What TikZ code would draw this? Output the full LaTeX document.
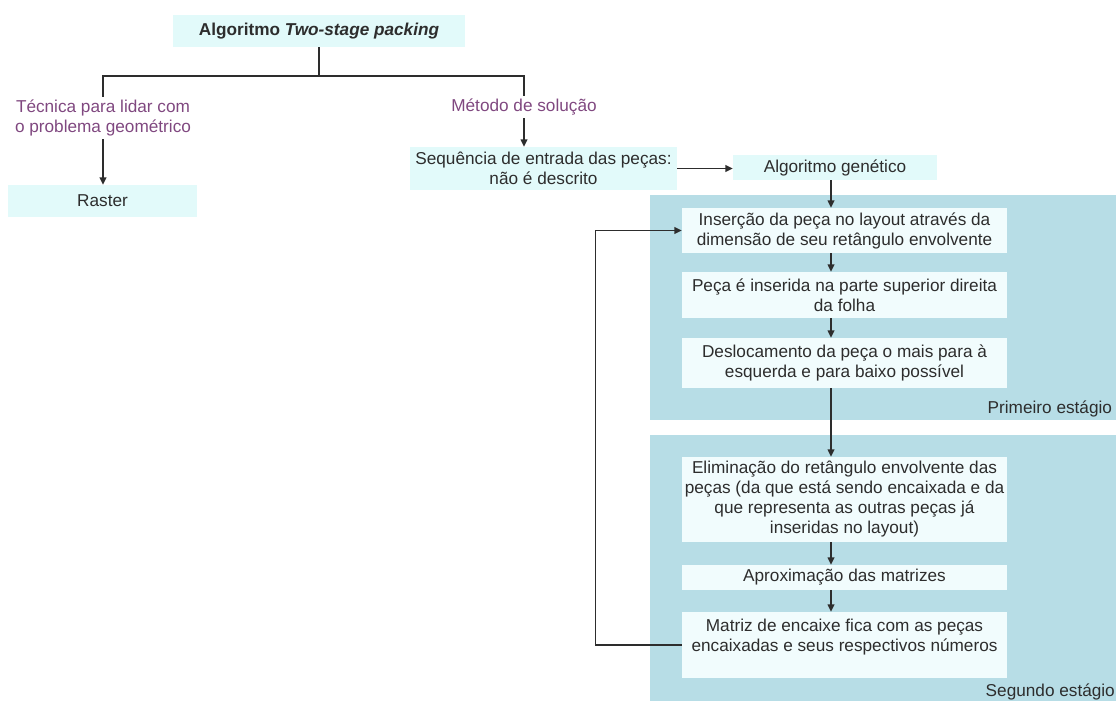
\documentclass[tikz,border=0pt]{standalone}
\usepackage{fontspec}
\setmainfont{Liberation Sans}
\usetikzlibrary{arrows.meta}

\definecolor{boxcyan}{RGB}{226,250,250}
\definecolor{panelblue}{RGB}{183,221,230}
\definecolor{innerbox}{RGB}{241,252,253}
\definecolor{txt}{RGB}{45,45,45}
\definecolor{lilac}{RGB}{128,72,128}

\begin{document}
\begin{tikzpicture}[x=0.75pt,y=-0.75pt,
  font=\fontsize{12.9}{15}\selectfont, text=txt,
  topbox/.style={fill=boxcyan, inner sep=0pt, align=center},
  stepbox/.style={fill=innerbox, inner sep=0pt, align=center, minimum width=243.75pt},
  branch/.style={text=lilac, align=center, inner sep=2pt},
  link/.style={draw=txt, line width=1.1pt},
  arr/.style={link, -{Triangle[length=5.5pt,width=5pt]}},
  stagelabel/.style={anchor=base west, text=txt}]

\useasboundingbox (0,0) rectangle (1116,700);
\clip (0,0) rectangle (1116,700);

% stage panels
\fill[panelblue] (650,195) rectangle (1125,420);
\fill[panelblue] (650,435) rectangle (1125,710);
\node[stagelabel] (st1) at (983,413) {Primeiro estágio};
\node[stagelabel] (st2) at (981,696) {Segundo estágio};

% top of the tree
\node[topbox, minimum width=219pt, minimum height=24pt] (title) at (319,31)
  {\textbf{Algoritmo \textit{Two-stage packing}}};
\node[branch] (tec) at (103,118) {Técnica para lidar com\\o problema geométrico};
\node[branch] (met) at (524,107) {Método de solução};
\node[topbox, minimum width=141.75pt, minimum height=24pt] (raster) at (102.5,201) {Raster};
\node[topbox, minimum width=200pt, minimum height=32.25pt] (seq) at (543.5,168.5)
  {Sequência de entrada das peças:\\não é descrito};
\node[topbox, minimum width=153pt, minimum height=18.75pt] (gen) at (835,167.5)
  {Algoritmo genético};

% steps of the two stages
\node[stepbox, minimum height=33.75pt] (b1) at (844.5,230.5)
  {Inserção da peça no layout através da\\dimensão de seu retângulo envolvente};
\node[stepbox, minimum height=34.5pt] (b2) at (844.5,295)
  {Peça é inserida na parte superior direita\\da folha};
\node[stepbox, minimum height=37.5pt] (b3) at (844.5,363)
  {Deslocamento da peça o mais para à\\esquerda e para baixo possível};
\node[stepbox, minimum height=63.75pt] (b4) at (844.5,499.5)
  {Eliminação do retângulo envolvente das\\peças (da que está sendo encaixada e da\\que representa as outras peças já\\inseridas no layout)};
\node[stepbox, minimum height=18.75pt] (b5) at (844.5,577.5)
  {Aproximação das matrizes};
\node[stepbox, minimum height=49.5pt] (b6) at (844.5,645)
  {Matriz de encaixe fica com as peças\\encaixadas e seus respectivos números\\\mbox{}};

% connectors
\coordinate (split) at (319,76);
\coordinate (ax) at (831,0);
\draw[link] (title.south) -- (split);
\draw[link] (tec.north) |- (split) -| (met.north);
\draw[arr] (tec.south) -- (tec.south |- raster.north);
\draw[arr] (met.south) -- (met.south |- seq.north);
\draw[arr] (seq.east) -- (seq.east -| gen.west);
\draw[arr] (gen.south -| ax) -- (b1.north -| ax);
\draw[arr] (b1.south -| ax) -- (b2.north -| ax);
\draw[arr] (b2.south -| ax) -- (b3.north -| ax);
\draw[arr] (b3.south -| ax) -- (b4.north -| ax);
\draw[arr] (b4.south -| ax) -- (b5.north -| ax);
\draw[arr] (b5.south -| ax) -- (b6.north -| ax);
\draw[arr] (b6.west) -- ++(-86,0) |- (b1.west);

\end{tikzpicture}
\end{document}
